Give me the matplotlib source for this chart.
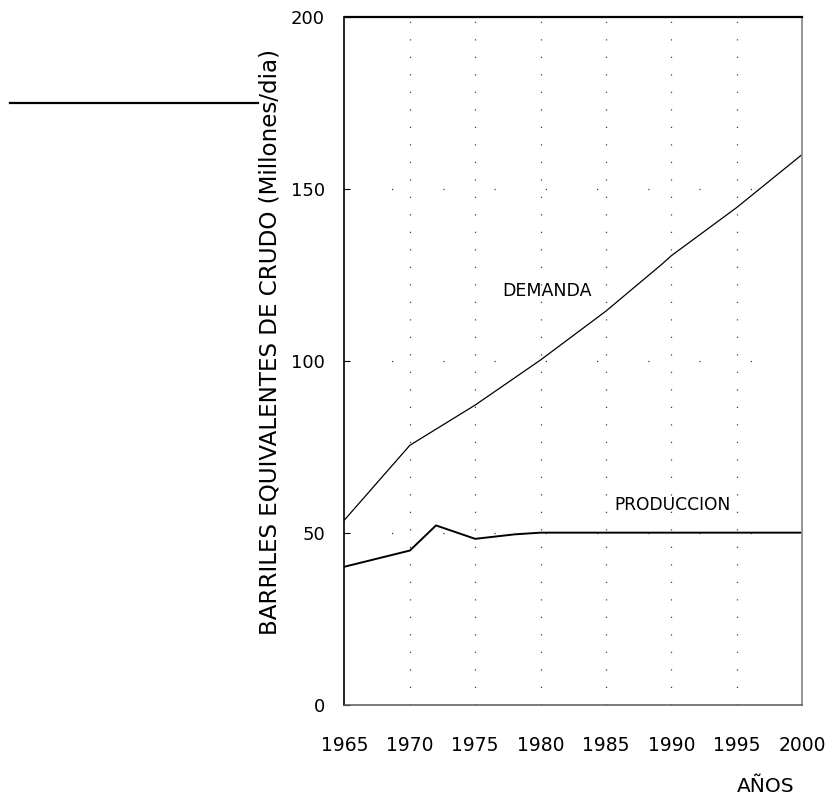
import matplotlib
matplotlib.use("Agg")
import matplotlib.pyplot as plt
from matplotlib.lines import Line2D

plt.rcParams['font.family'] = ['DejaVu Sans']

demand_years = [1965, 1970, 1975, 1980, 1985, 1989.3, 1990, 1995, 2000]
demand_vals = [53.8, 75.5, 87.2, 100.3, 114.5, 128.2, 130.6, 144.6, 160.0]

prod_years = [1965, 1970, 1972, 1975, 1978, 1980, 1985, 1990, 1995, 2000]
prod_vals = [40.2, 44.9, 52.2, 48.3, 49.6, 50.1, 50.1, 50.1, 50.1, 50.1]

x_ticks = [1965, 1970, 1975, 1980, 1985, 1990, 1995, 2000]
x_major_marks = [1975, 1985, 1995]
y_ticks = [0, 50, 100, 150, 200]

W, H = 829, 799
fig = plt.figure(figsize=(W / 100, H / 100), dpi=100)
ax = fig.add_axes([344.5 / W, 1 - 705 / H, (802 - 344.5) / W, (705 - 17) / H])

ax.plot(demand_years, demand_vals, color='black', lw=0.9)
ax.plot(prod_years, prod_vals, color='black', lw=1.4)

# sparse dotted grid
for x in [1970, 1975, 1980, 1985, 1990, 1995]:
    ax.axvline(x, color='0.25', lw=0.9, linestyle=(0, (1, 13)), zorder=0)
for y in [50, 100, 150]:
    ax.axhline(y, color='0.25', lw=0.9, linestyle=(3, (1, 40)), zorder=0)

ax.set_xlim(1965, 2000)
ax.set_ylim(0, 200)

ax.set_xticks(x_ticks)
ax.set_xticklabels([str(v) for v in x_ticks], fontsize=13.5)
ax.tick_params(axis='x', which='major', length=0, pad=22)
ax.set_xticks(x_major_marks, minor=True)
ax.tick_params(axis='x', which='minor', length=9, width=1, direction='out', color='black')

ax.set_yticks(y_ticks)
ax.set_yticklabels([str(v) for v in y_ticks], fontsize=13)
ax.tick_params(axis='y', length=4, direction='in', pad=14, width=0.8)

ax.spines['left'].set_linewidth(1.2)
ax.spines['top'].set_linewidth(1.6)
ax.spines['bottom'].set_linewidth(1.1)
ax.spines['bottom'].set_color('0.35')
ax.spines['right'].set_linewidth(1.3)
ax.spines['right'].set_color('0.55')

fig.text(270 / W, 1 - 342 / H, 'BARRILES EQUIVALENTES DE CRUDO (Millones/dia)',
         fontsize=16.6, rotation=90, ha='center', va='center')

ax.text(1980.5, 120.3, 'DEMANDA', fontsize=12.5, ha='center', va='center')
ax.text(1990.1, 58.1, 'PRODUCCION', fontsize=12.3, ha='center', va='center')

fig.text(766 / W, 1 - 787 / H, 'AÑOS', fontsize=14.5, ha='center', va='center')

# decorative horizontal rule at upper left
fig.add_artist(Line2D([10 / W, 258 / W], [1 - 103 / H, 1 - 103 / H],
                      color='black', lw=1.6, transform=fig.transFigure))

fig.savefig('out.png', dpi=100)
